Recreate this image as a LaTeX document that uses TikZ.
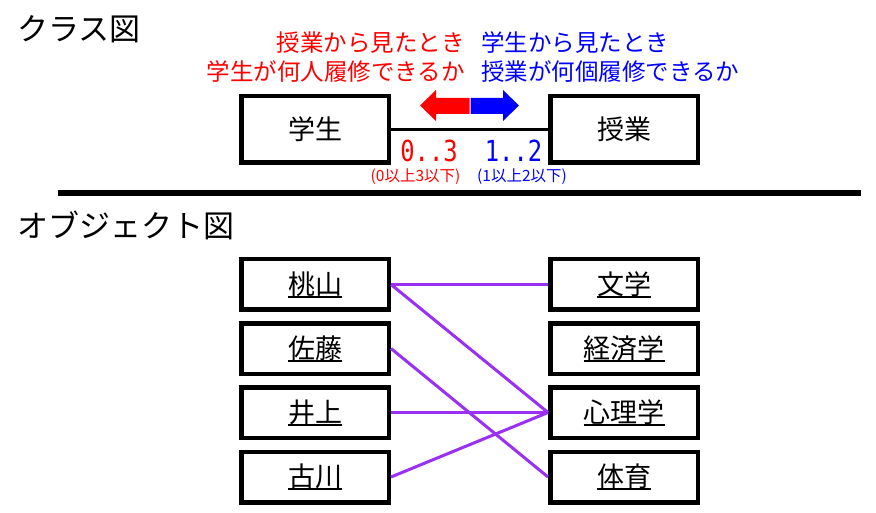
\documentclass[tikz,border=0pt]{standalone}
\usepackage{fontspec}
\newfontfamily\jp{Noto Sans CJK JP}
\newfontfamily\monofam{DejaVu Sans Mono}
\newcommand\fsz[1]{\fontsize{#1}{#1}\selectfont}
\newcommand\uline[1]{\setbox0\hbox{#1}\rlap{\rule[-3.5pt]{\wd0}{2pt}}\box0}
\definecolor{linkpurple}{RGB}{155,48,245}
\begin{document}
\begin{tikzpicture}[x=1pt,y=-1pt,
  cls/.style={draw, line width=4.5pt, fill=white, minimum width=147.5pt, minimum height=66.5pt, inner sep=0pt, font=\jp\fsz{27}},
  obj/.style={draw, line width=4.5pt, fill=white, minimum width=147.5pt, minimum height=50.5pt, inner sep=0pt, font=\jp\fsz{27}},
  ttl/.style={anchor=west, inner sep=0pt, font=\jp\fsz{31}},
  redtxt/.style={anchor=east, inner sep=0pt, text=red, font=\jp\fsz{23.5}},
  bluetxt/.style={anchor=west, inner sep=0pt, text=blue, font=\jp\fsz{23.5}},
  mult/.style={inner sep=0pt, font=\monofam\fsz{29}},
  rng/.style={inner sep=0pt, font=\jp\fsz{15.5}},
  link/.style={line width=3pt, draw=linkpurple},
  assoc/.style={line width=3pt, draw=black},
  sep/.style={line width=6pt, draw=black}
]
\useasboundingbox (0,0) rectangle (876,513);

% titles
\node[ttl] (t1) at (17,29) {クラス図};
\node[ttl] (t2) at (17,225) {オブジェクト図};

% explanation texts
\node[redtxt] (r1) at (465,43) {授業から見たとき};
\node[redtxt] (r2) at (465,72) {学生が何人履修できるか};
\node[bluetxt] (b1) at (481,43) {学生から見たとき};
\node[bluetxt] (b2) at (481,72) {授業が何個履修できるか};

% arrows
\fill[red] (469.5,98) -- (436,98) -- (436,90) -- (420,105.5) -- (436,121) -- (436,114) -- (469.5,114) -- cycle;
\fill[blue] (470.5,98) -- (503,98) -- (503,90) -- (519,105.5) -- (503,121) -- (503,114) -- (470.5,114) -- cycle;

% class diagram
\node[cls] (gs) at (315,129.5) {学生};
\node[cls] (jg) at (624,129.5) {授業};
\draw[assoc] (gs.east) -- (jg.west);
\node[mult, text=red] (m1) at (429,151) {\scalebox{0.82}[1]{0..3}};
\node[mult, text=blue] (m2) at (513.5,151) {\scalebox{0.82}[1]{1..2}};
\node[rng, text=red] (n1) at (415.5,177) {(0以上3以下)};
\node[rng, text=blue] (n2) at (522,177) {(1以上2以下)};

% separator
\coordinate (sa) at (58,193);
\coordinate (sb) at (861,193);
\draw[sep] (sa) -- (sb);

% object diagram
\node[obj] (a1) at (315,284.5) {\uline{桃山}};
\node[obj] (a2) at (315,348.5) {\uline{佐藤}};
\node[obj] (a3) at (315,412.5) {\uline{井上}};
\node[obj] (a4) at (315,477) {\uline{古川}};
\node[obj] (c1) at (624,284.5) {\uline{文学}};
\node[obj] (c2) at (624,348.5) {\uline{経済学}};
\node[obj] (c3) at (624,412.5) {\uline{心理学}};
\node[obj] (c4) at (624,477) {\uline{体育}};

\draw[link] (a1.east) -- (c1.west);
\draw[link] (a1.east) -- (c3.west);
\draw[link] (a2.east) -- (c4.west);
\draw[link] (a3.east) -- (c3.west);
\draw[link] (a4.east) -- (c3.west);
\end{tikzpicture}
\end{document}
